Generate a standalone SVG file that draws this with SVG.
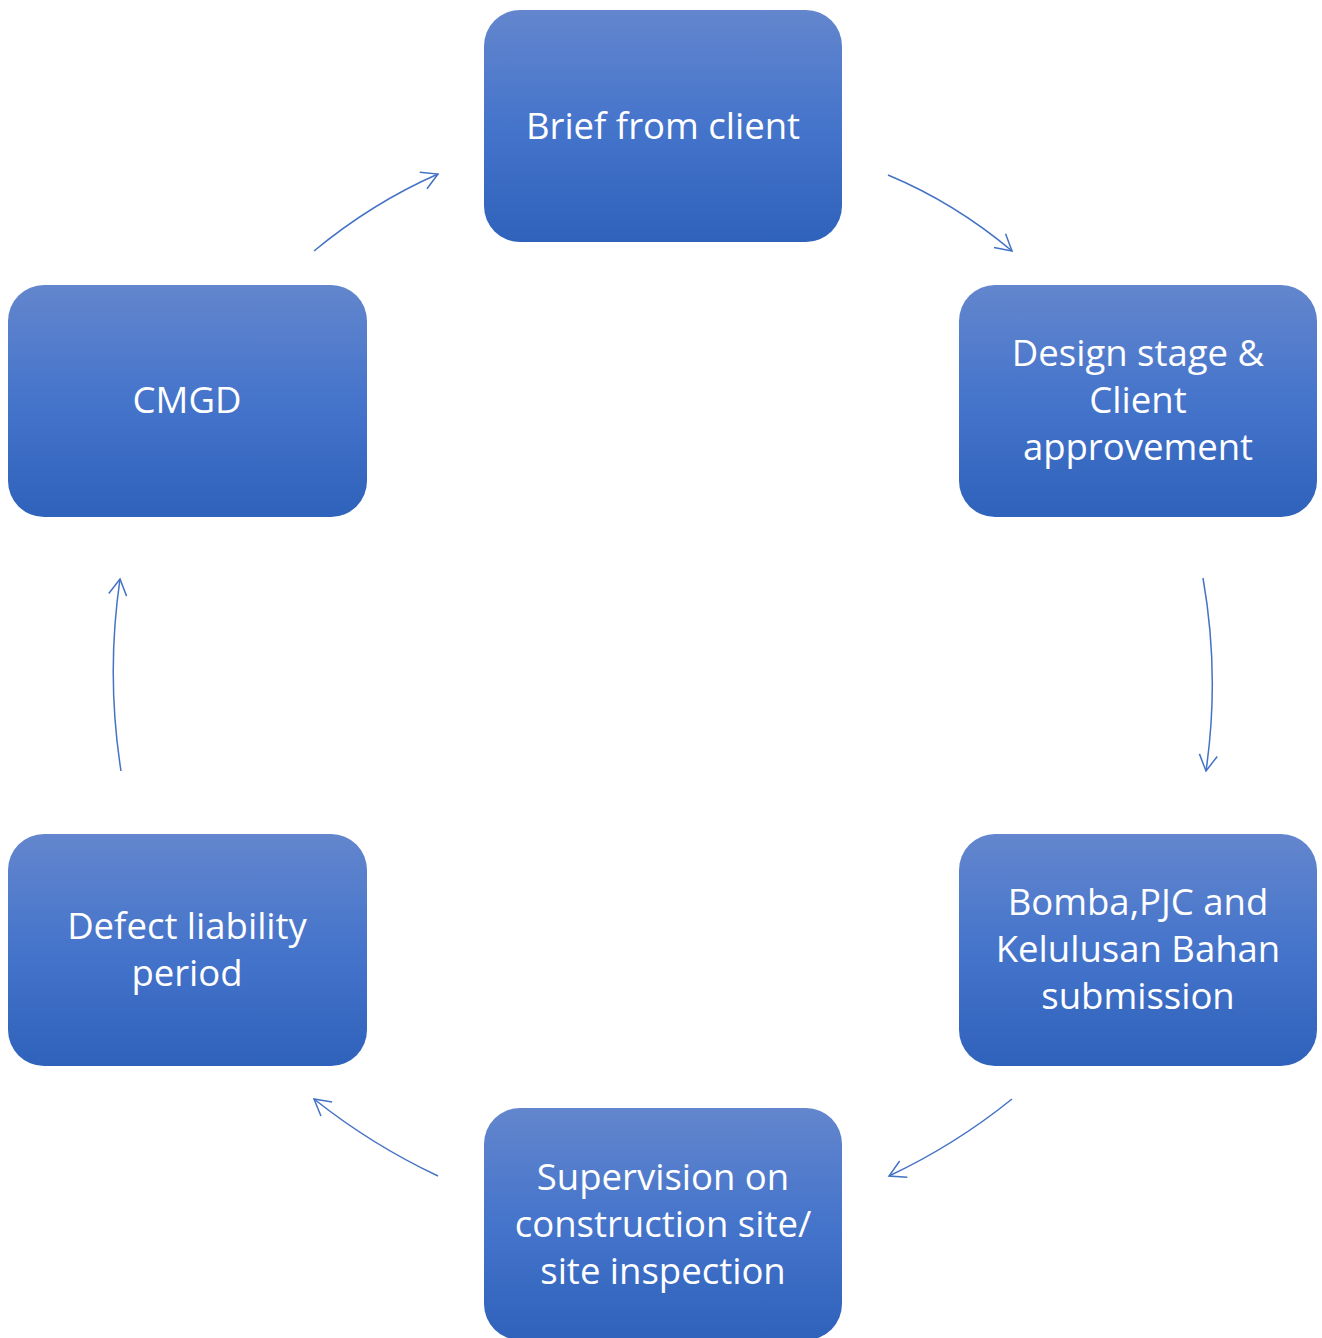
<svg xmlns="http://www.w3.org/2000/svg" width="1322" height="1338" viewBox="0 0 1322 1338">
<defs>
<linearGradient id="g" x1="0" y1="0" x2="0" y2="1">
<stop offset="0" stop-color="#6386cd"/>
<stop offset="0.5" stop-color="#4574cb"/>
<stop offset="1" stop-color="#2f62bb"/>
</linearGradient>
<marker id="arr" markerUnits="userSpaceOnUse" markerWidth="24" markerHeight="24" refX="20" refY="10" orient="auto" viewBox="0 0 24 20">
<path d="M4,1 L20,10 L4,19" fill="none" stroke="#4472c4" stroke-width="1.5"/>
</marker>
</defs>
<style>
.box{fill:url(#g);}
.t{fill:#ffffff;font-family:"Open Sans","Noto Sans","Liberation Sans",sans-serif;font-size:36.5px;text-anchor:middle;}
.c{fill:none;stroke:#4472c4;stroke-width:1.5;marker-end:url(#arr);}
</style>
<rect width="1322" height="1338" fill="#ffffff"/>
<g id="n1"><rect class="box" x="484" y="10" width="358" height="232" rx="36"/><text class="t" x="663" y="139">Brief from client</text></g>
<g id="n2"><rect class="box" x="959" y="285" width="358" height="232" rx="36"/><text class="t" x="1138" y="366">Design stage &amp;</text><text class="t" x="1138" y="413">Client</text><text class="t" x="1138" y="460">approvement</text></g>
<g id="n3"><rect class="box" x="959" y="834" width="358" height="232" rx="36"/><text class="t" x="1138" y="915">Bomba,PJC and</text><text class="t" x="1138" y="962">Kelulusan Bahan</text><text class="t" x="1138" y="1009">submission</text></g>
<g id="n4"><rect class="box" x="484" y="1108" width="358" height="232" rx="36"/><text class="t" x="663" y="1190">Supervision on</text><text class="t" x="663" y="1237">construction site/</text><text class="t" x="663" y="1284">site inspection</text></g>
<g id="n5"><rect class="box" x="8" y="834" width="359" height="232" rx="36"/><text class="t" x="187" y="939">Defect liability</text><text class="t" x="187" y="986">period</text></g>
<g id="n6"><rect class="box" x="8" y="285" width="359" height="232" rx="36"/><text class="t" x="187" y="413">CMGD</text></g>
<g id="connectors">
<path class="c" d="M888,175 Q955,203 1012,251"/>
<path class="c" d="M1203,578 Q1220,675 1206,771"/>
<path class="c" d="M1012,1099 Q955,1145 889,1176"/>
<path class="c" d="M438,1176 Q372,1145 314,1099"/>
<path class="c" d="M121,771 Q106,675 120,579"/>
<path class="c" d="M314,251 Q372,203 438,174"/>
</g>
</svg>
